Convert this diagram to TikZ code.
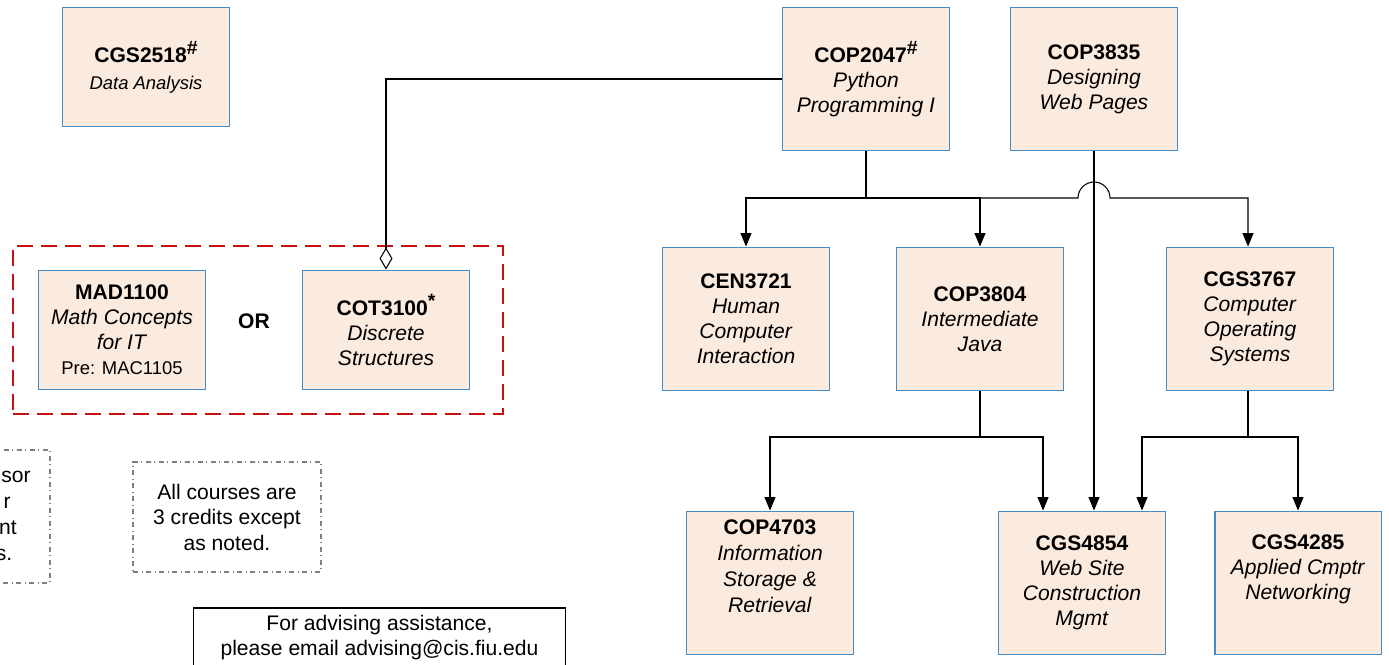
\documentclass[tikz,border=0pt]{standalone}
\usepackage{fontspec}
\setmainfont{Liberation Sans}
\usetikzlibrary{arrows.meta}

\definecolor{coursefill}{RGB}{251,234,222}
\definecolor{courseedge}{RGB}{68,140,200}
\definecolor{groupred}{RGB}{200,16,16}

\tikzset{
	course/.style={draw=courseedge, line width=1.1pt, fill=coursefill, align=center, minimum width=3.34cm, minimum height=2.86cm, inner sep=2pt},
	short/.style={minimum height=2.38cm},
	orgroup/.style={draw=groupred, line width=1.4pt, dash pattern=on 0.32cm off 0.16cm, minimum width=9.8cm, minimum height=3.36cm},
	note/.style={draw=gray, dash dot, line width=0.6pt, align=center},
	link/.style={line width=0.6pt},
	prereq/.style={link, -{Triangle[length=0.27cm,width=0.22cm]}},
	aggr/.style={link, -{Diamond[open,length=0.44cm,width=0.26cm]}}
}
\newcommand{\code}[2]{\textbf{#1}\raisebox{0.75ex}{\fontsize{11}{11}\selectfont\textbf{#2}}}
\newcommand{\cut}[2]{\makebox[0.7cm][r]{#1\hspace*{#2}}}

\begin{document}
\begin{tikzpicture}[x=0.02cm, y=-0.02cm, font=\fontsize{12}{14.2}\selectfont]
		\useasboundingbox (0,0) rectangle (1389,664);

		\node[course, short] (cgs2518) at (146,67) {\code{CGS2518}{\#}\\[1pt] {\fontsize{10.5}{13}\selectfont\itshape Data Analysis}};
		\node[course] (cop2047) at (866,79) {\code{COP2047}{\#}\\ \textit{Python}\\ \textit{Programming I}};
		\node[course] (cop3835) at (1094,79) {\textbf{COP3835}\\ \textit{Designing}\\ \textit{Web Pages}};

		\node[orgroup] (orbox) at (258,330) {};
		\node[course, short] (mad1100) at (122,330) {\textbf{MAD1100}\\ \textit{Math Concepts}\\ \textit{for IT}\\ {\fontsize{10.5}{13}\selectfont Pre: MAC1105}};
		\node[font=\fontsize{12}{14}\selectfont\bfseries] (ortext) at (254,321) {OR};
		\node[course, short] (cot3100) at (386,330) {\code{COT3100}{*}\\ \textit{Discrete}\\ \textit{Structures}};

		\node[course] (cen3721) at (746,319) {\textbf{CEN3721}\\ \textit{Human}\\ \textit{Computer}\\ \textit{Interaction}};
		\node[course] (cop3804) at (980,319) {\textbf{COP3804}\\ \textit{Intermediate}\\ \textit{Java}};
		\node[course] (cgs3767) at (1250,319) {\textbf{CGS3767}\\ \textit{Computer}\\ \textit{Operating}\\ \textit{Systems}};

		\node[course, font=\fontsize{12}{14.7}\selectfont] (cop4703) at (770,583) {\textbf{COP4703}\\ \textit{Information}\\ \textit{Storage \&}\\ \textit{Retrieval}\\ \strut};
		\node[course] (cgs4854) at (1082,583) {\textbf{CGS4854}\\ \textit{Web Site}\\ \textit{Construction}\\ \textit{Mgmt}};
		\node[course] (cgs4285) at (1298,583) {\textbf{CGS4285}\\ \textit{Applied Cmptr}\\ \textit{Networking}\\ \strut};

		\node[note, minimum width=3.8cm, minimum height=2.66cm] (advisornote) at (-45,516.5) {};
		\node[anchor=north east, align=right, inner sep=0pt, font=\fontsize{12}{14.7}\selectfont] (advisortext) at (31,471) {\cut{sor}{0cm}\\ \cut{r}{0.4cm}\\ \cut{nt}{0.28cm}\\ \cut{s.}{0.37cm}};
		\node[note, minimum width=3.76cm, minimum height=2.2cm, font=\fontsize{12}{14.5}\selectfont] (creditnote) at (227,517) {All courses are\\ 3 credits except\\ as noted.};
		\node[draw, line width=0.6pt, align=center, minimum width=7.46cm, minimum height=1.2cm] (advising) at (379.5,638) {For advising assistance,\\ please email advising@cis.fiu.edu};

		\coordinate (splitA) at (cop2047.south |- 0,198);
		\coordinate (hopL) at (1078,198);
		\coordinate (splitB) at (cop3804.south |- 0,437);
		\coordinate (splitC) at (1248,437);

		\draw[aggr] (cop2047.west) -| (cot3100.north);

		\draw[link] (cop2047.south) -- (splitA);
		\draw[prereq] (splitA) -| (cen3721.north);
		\draw[prereq] (splitA) -| (cop3804.north);
		\draw[prereq] (splitA) -- (hopL) arc[start angle=180, end angle=0, radius=0.32cm] -| ([xshift=-0.04cm]cgs3767.north);

		\draw[prereq] (cop3835.south) -- (cop3835.south |- cgs4854.north);

		\draw[link] (cop3804.south) -- (splitB);
		\draw[prereq] (splitB) -| (cop4703.north);
		\draw[prereq] (splitB) -| ([xshift=-0.78cm]cgs4854.north);

		\draw[link] (cgs3767.south -| splitC) -- (splitC);
		\draw[prereq] (splitC) -| ([xshift=1.2cm]cgs4854.north);
		\draw[prereq] (splitC) -| (cgs4285.north);
	\end{tikzpicture}
\end{document}
